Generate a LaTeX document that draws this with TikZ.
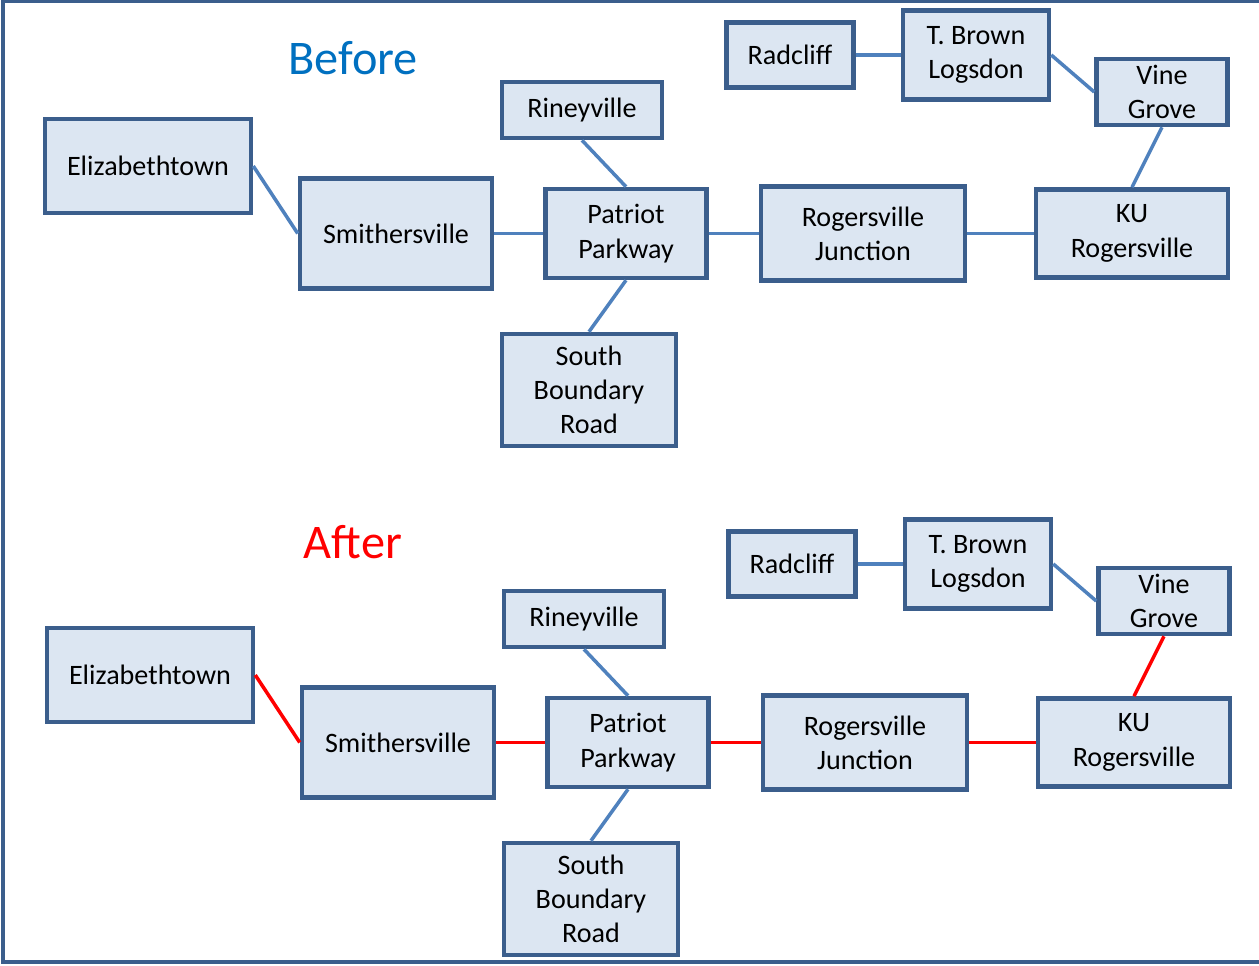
\documentclass[tikz,border=0pt]{standalone}
\usepackage{fontspec}
\setmainfont{Carlito}
\usepackage{xcolor}
\definecolor{frameblue}{RGB}{59,94,140}
\definecolor{boxfill}{RGB}{220,230,242}
\definecolor{linkblue}{RGB}{79,129,189}
\definecolor{titleblue}{RGB}{0,112,192}

\begin{document}
\begin{tikzpicture}[x=0.02cm,y=-0.02cm]
    \tikzstyle{S}=[rectangle,draw=frameblue,line width=2.6pt,fill=boxfill,align=center,
        inner sep=0pt,font=\fontsize{16}{19.5}\selectfont]
    \tikzstyle{B}=[linkblue,line width=2pt]
    \tikzstyle{R}=[red,line width=2pt]

    \useasboundingbox (0,0) rectangle (1259,966);
    % frame
    \draw [frameblue,line width=1.8pt] (1300,1.5) -- (3,1.5) -- (3,962) -- (1300,962);

    % Before
    \node [titleblue,font=\fontsize{27.5}{33}\selectfont] (tb) at (353,58) {Before};
    \node [S,minimum width=4.12cm,minimum height=1.88cm] (be) at (148,166) {Elizabethtown};
    \node [S,minimum width=3.84cm,minimum height=2.2cm] (bs) at (396,233.5) {Smithersville};
    \node [S,minimum width=3.2cm,minimum height=1.12cm] (br) at (582,110) {Rineyville};
    \node [S,minimum width=3.22cm,minimum height=1.78cm] (bp) at (626,233.5) {Patriot\\Parkway};
    \node [S,minimum width=3.48cm,minimum height=2.24cm] (bsb) at (589,390) {South\\Boundary\\Road};
    \node [S,minimum width=4.08cm,minimum height=1.88cm] (bj) at (863,233.5) {Rogersville\\Junction};
    \node [S,minimum width=3.84cm,minimum height=1.76cm] (bk) at (1132,233.5) {KU\\Rogersville};
    \node [S,minimum width=2.54cm,minimum height=1.3cm] (bra) at (790,55) {Radcliff};
    \node [S,minimum width=2.92cm,minimum height=1.78cm] (bt) at (976,55) {T. Brown\\Logsdon};
    \node [S,minimum width=2.62cm,minimum height=1.32cm] (bv) at (1162,92) {Vine\\Grove};

    \draw [B] (be.east) -- (bs.west);
    \draw [B] (bs) -- (bp);
    \draw [B] (br.south) -- (bp.north);
    \draw [B] (bp.south) -- (bsb.north);
    \draw [B] (bp) -- (bj);
    \draw [B] (bj) -- (bk);
    \draw [B] (bk.north) -- (bv.south);
    \draw [B] (bra) -- (bt);
    \draw [B] (bt.east) -- (bv.west);

    % After
    \node [red,font=\fontsize{27.5}{33}\selectfont] (ta) at (353,542) {After};
    \node [S,minimum width=4.12cm,minimum height=1.88cm] (ae) at (150,675) {Elizabethtown};
    \node [S,minimum width=3.84cm,minimum height=2.2cm] (as) at (398,742.5) {Smithersville};
    \node [S,minimum width=3.2cm,minimum height=1.12cm] (ar) at (584,619) {Rineyville};
    \node [S,minimum width=3.22cm,minimum height=1.78cm] (ap) at (628,742.5) {Patriot\\Parkway};
    \node [S,minimum width=3.48cm,minimum height=2.24cm] (asb) at (591,899) {South\\Boundary\\Road};
    \node [S,minimum width=4.08cm,minimum height=1.88cm] (aj) at (865,742.5) {Rogersville\\Junction};
    \node [S,minimum width=3.84cm,minimum height=1.76cm] (ak) at (1134,742.5) {KU\\Rogersville};
    \node [S,minimum width=2.54cm,minimum height=1.3cm] (ara) at (792,564) {Radcliff};
    \node [S,minimum width=2.92cm,minimum height=1.78cm] (at) at (978,564) {T. Brown\\Logsdon};
    \node [S,minimum width=2.62cm,minimum height=1.32cm] (av) at (1164,601) {Vine\\Grove};

    \draw [R] (ae.east) -- (as.west);
    \draw [R] (as) -- (ap);
    \draw [B] (ar.south) -- (ap.north);
    \draw [B] (ap.south) -- (asb.north);
    \draw [R] (ap) -- (aj);
    \draw [R] (aj) -- (ak);
    \draw [R] (ak.north) -- (av.south);
    \draw [B] (ara) -- (at);
    \draw [B] (at.east) -- (av.west);
\end{tikzpicture}
\end{document}
